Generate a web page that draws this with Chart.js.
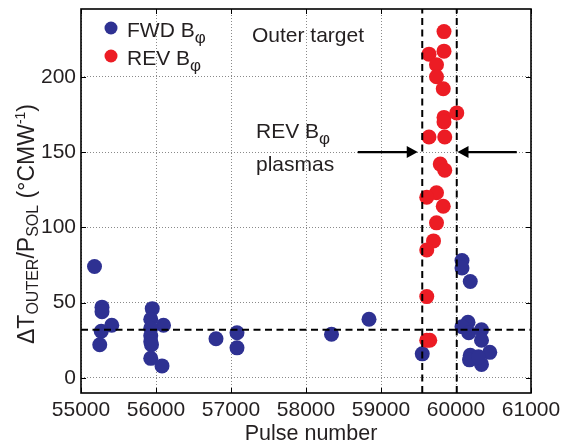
<!DOCTYPE html>
<html><head><meta charset="utf-8">
<script src="https://cdn.jsdelivr.net/npm/chart.js@4.4.0/dist/chart.umd.min.js"></script>
<style>html,body{margin:0;padding:0;background:#fff}#wrap{width:567px;height:446px;position:relative}</style>
</head><body><div id="wrap"><canvas id="c" width="567" height="446"></canvas></div>
<script>
// ---- data ----
const fwdPulse = [55180,55280,55280,55410,55270,55250,55950,55930,56100,55930,55930,55930,55940,55930,56080,56800,57080,57080,58340,58840,59550,60080,60080,60190,60160,60080,60170,60340,60340,60190,60180,60450,60340,60300];
const fwdValue = [74,47,44,35,31,22,46,39,35,33,28,24,22,13,8,26,30,20,29,39,16,78,73,64,37,34,30,32,25,15,12,17,9,14];
const revPulse = [59840,59840,59640,59740,59740,59830,60010,59840,59840,59640,59850,59790,59850,59740,59610,59830,59740,59700,59610,59610,59610,59650];
const revValue = [230,217,215,208,200,192,176,173,170,160,160,142,138,123,120,114,103,91,85,54,25,25];
const xTicks = [55000,56000,57000,58000,59000,60000,61000];
const yTicks = [0,50,100,150,200];
const xRange = [55000,61000];
const yRange = [-10,245];
const refLevel = 32;
const windowEdges = [59550,60010];
const arrowLevel = 150;
const leftArrow = [58690,59490];
const rightArrow = [60810,60020];

const FONT = "'Liberation Sans', Arial, Helvetica, sans-serif";
const TXT = '#231f20';
const BLUE = '#2e3192';
const RED = '#ec1c24';

const pts = (xs, ys) => xs.map((x,i)=>({x:x, y:ys[i]}));

function drawRich(ctx, segs, x, y, align) {
  let w = 0;
  segs.forEach(s => { ctx.font = s.size + 'px ' + FONT; s.w = ctx.measureText(s.t).width; w += s.w; });
  let cx = align === 'center' ? x - w/2 : x;
  segs.forEach(s => {
    ctx.font = s.size + 'px ' + FONT;
    ctx.textAlign = 'left';
    ctx.textBaseline = 'alphabetic';
    ctx.fillText(s.t, cx, y + (s.dy||0));
    cx += s.w;
  });
}

const decor = {
  id: 'decor',
  afterDraw(chart) {
    const ctx = chart.ctx, a = chart.chartArea;
    const xs = chart.scales.x, ys = chart.scales.y;
    ctx.save();
    // inward ticks
    ctx.strokeStyle = '#000'; ctx.lineWidth = 1; ctx.setLineDash([]);
    ctx.beginPath();
    xTicks.forEach(v => { const px = Math.round(xs.getPixelForValue(v))+0.5;
      ctx.moveTo(px, a.bottom); ctx.lineTo(px, a.bottom-5);
      ctx.moveTo(px, a.top); ctx.lineTo(px, a.top+5); });
    yTicks.forEach(v => { const py = Math.round(ys.getPixelForValue(v))+0.5;
      ctx.moveTo(a.left, py); ctx.lineTo(a.left+5, py);
      ctx.moveTo(a.right, py); ctx.lineTo(a.right-5, py); });
    ctx.stroke();
    // box
    ctx.lineWidth = 1.6;
    ctx.strokeRect(a.left, a.top, a.right-a.left, a.bottom-a.top);
    // arrows
    const ay = ys.getPixelForValue(arrowLevel);
    [leftArrow, rightArrow].forEach(ar => {
      const x0 = xs.getPixelForValue(ar[0]), x1 = xs.getPixelForValue(ar[1]);
      const dir = Math.sign(x1 - x0);
      ctx.strokeStyle = '#000'; ctx.lineWidth = 2.2;
      ctx.beginPath(); ctx.moveTo(x0, ay); ctx.lineTo(x1 - dir*8, ay); ctx.stroke();
      ctx.fillStyle = '#000';
      ctx.beginPath(); ctx.moveTo(x1, ay); ctx.lineTo(x1 - dir*11, ay-6); ctx.lineTo(x1 - dir*11, ay+6); ctx.closePath(); ctx.fill();
    });
    // annotations
    ctx.fillStyle = TXT;
    drawRich(ctx, [{t:'Outer target', size:21}], 252, 42);
    drawRich(ctx, [{t:'REV B', size:21},{t:'φ', size:17, dy:6}], 256, 138);
    drawRich(ctx, [{t:'plasmas', size:21}], 256, 171);
    // legend
    ctx.fillStyle = BLUE; ctx.beginPath(); ctx.arc(111, 28, 6.5, 0, Math.PI*2); ctx.fill();
    ctx.fillStyle = RED; ctx.beginPath(); ctx.arc(111, 56, 6.5, 0, Math.PI*2); ctx.fill();
    ctx.fillStyle = TXT;
    drawRich(ctx, [{t:'FWD B', size:21},{t:'φ', size:17, dy:6}], 127, 37);
    drawRich(ctx, [{t:'REV B', size:21},{t:'φ', size:17, dy:6}], 127, 65);
    // x title
    drawRich(ctx, [{t:'Pulse number', size:21.5}], 311, 440, 'center');
    // y title
    ctx.translate(34, 224);
    ctx.rotate(-Math.PI/2);
    drawRich(ctx, [
      {t:'ΔT', size:23},{t:'OUTER', size:16, dy:4},{t:'/P', size:23},{t:'SOL', size:16, dy:4},
      {t:' (°CMW', size:23},{t:'-1', size:14, dy:-9},{t:')', size:23}], 0, 0, 'center');
    ctx.restore();
  }
};

const dashLine = (data) => ({
  type:'line', data:data, showLine:true, borderColor:'#000', borderWidth:2,
  borderDash:[7,4.5], pointRadius:0, fill:false, order:0, tension:0
});

new Chart(document.getElementById('c'), {
  type:'scatter',
  data:{ datasets:[
    {label:'FWD Bφ', data:pts(fwdPulse,fwdValue), backgroundColor:BLUE, borderColor:BLUE, borderWidth:0, pointRadius:7.5, order:2},
    {label:'REV Bφ', data:pts(revPulse,revValue), backgroundColor:RED, borderColor:RED, borderWidth:0, pointRadius:7.5, order:1},
    dashLine([{x:xRange[0],y:refLevel},{x:xRange[1],y:refLevel}]),
    dashLine([{x:windowEdges[0],y:yRange[0]},{x:windowEdges[0],y:yRange[1]}]),
    dashLine([{x:windowEdges[1],y:yRange[0]},{x:windowEdges[1],y:yRange[1]}])
  ]},
  options:{
    responsive:false, animation:false, devicePixelRatio:1,
    layout:{padding:{top:9,right:36,left:0,bottom:0}},
    plugins:{legend:{display:false}, tooltip:{enabled:false}},
    scales:{
      x:{type:'linear', min:xRange[0], max:xRange[1],
        afterBuildTicks:s=>{s.ticks = xTicks.map(v=>({value:v}));},
        afterFit:s=>{s.height = 53; s.paddingLeft = 0; s.paddingRight = 0;},
        ticks:{font:{family:FONT,size:21}, color:TXT, padding:5, maxRotation:0, autoSkip:false, callback:v=>String(v)},
        grid:{color:'#8a8a8a', lineWidth:1, drawTicks:false},
        border:{display:false, dash:[1,2]}
      },
      y:{type:'linear', min:yRange[0], max:yRange[1],
        afterBuildTicks:s=>{s.ticks = yTicks.map(v=>({value:v}));},
        afterFit:s=>{s.width = 81; s.paddingTop = 0; s.paddingBottom = 0;},
        ticks:{font:{family:FONT,size:21}, color:TXT, padding:5, callback:v=>String(v)},
        grid:{color:'#8a8a8a', lineWidth:1, drawTicks:false},
        border:{display:false, dash:[1,2]}
      }
    }
  },
  plugins:[decor]
});
</script></body></html>
